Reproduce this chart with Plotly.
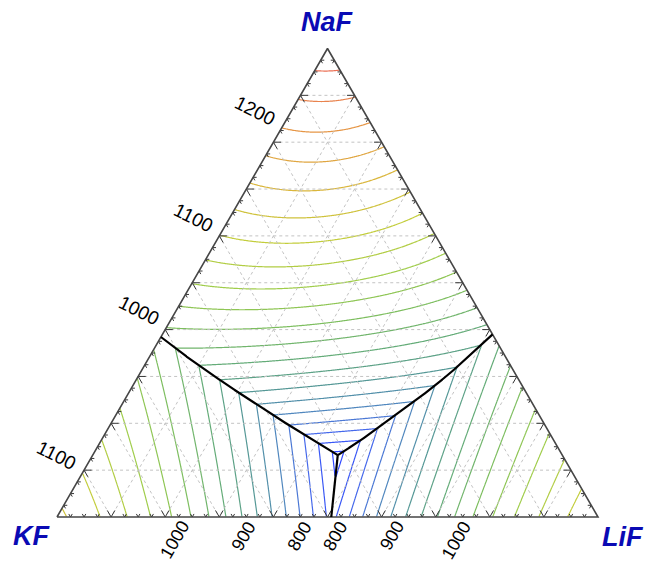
import numpy as np
import plotly.graph_objects as go

# ---------------- data ----------------
components = ["NaF", "KF", "LiF"]            # top, left, right vertex
melting_K = [1269.0, 1131.0, 1121.0]         # liquidus at the pure corners
fusion_J = [33350.0, 33400.0, 32400.0]       # fitted enthalpy of fusion
# binary interaction of each component's liquidus, order (NaF, KF, LiF)
W_NaF = [0.0, 1300.0, -3900.0]
W_KF = [-1500.0, 0.0, -24500.0]
W_LiF = [-10100.0, -24500.0, 0.0]
ternary_pair = [-9360.0, -18100.0, -31800.0]
ternary_triple = [36000.0, 0.0, 0.0]

level_start, level_end, level_step = 750, 1250, 25
naf_edge_labels = [1200, 1100, 1000]         # on KF-NaF edge (NaF field)
kf_left_labels = [1100]                      # on KF-NaF edge (KF field)
kf_bottom_labels = [1000, 900, 800]          # on KF-LiF edge (KF field)
lif_bottom_labels = [800, 900, 1000]         # on KF-LiF edge (LiF field)

line_colors = [
    [0.0, "rgb(45,70,255)"], [0.1, "rgb(70,105,235)"], [0.2, "rgb(80,135,190)"],
    [0.3, "rgb(85,152,150)"], [0.4, "rgb(100,172,120)"], [0.5, "rgb(125,190,95)"],
    [0.6, "rgb(160,205,75)"], [0.7, "rgb(195,205,60)"], [0.8, "rgb(218,182,60)"],
    [0.9, "rgb(230,150,70)"], [1.0, "rgb(235,112,85)"],
]

R = 8.314
H3 = np.sqrt(3) / 2
W = [W_NaF, W_KF, W_LiF]


def liquidus(i, x):
    j, k = [n for n in range(3) if n != i]
    xi = np.clip(x[i], 1e-7, 1.0)
    omega = (W[i][j] * x[j] ** 2 + W[i][k] * x[k] ** 2
             + ternary_pair[i] * x[j] * x[k]
             + ternary_triple[i] * x[0] * x[1] * x[2])
    return (fusion_J[i] + omega) / (fusion_J[i] / melting_K[i] - R * np.log(xi))


def to_xy(a, b, c):
    # a = NaF (top), b = KF (left), c = LiF (right)
    return c + a / 2.0, a * H3


# ---------------- liquidus surface on a grid ----------------
xs = np.linspace(-0.03, 1.03, 430)
ys = np.linspace(-0.03, 0.89, 380)
X, Y = np.meshgrid(xs, ys)
A = Y / H3
C = X - A / 2
B = 1 - A - C
comp = np.clip(np.array([A, B, C]), 1e-7, 1.0)
comp = comp / comp.sum(axis=0)
T = np.max([liquidus(i, comp) for i in range(3)], axis=0)
T = np.round(T, 2)

fig = go.Figure()
fig.add_trace(go.Contour(
    x=xs, y=ys, z=T, zmin=level_start, zmax=level_end,
    contours=dict(start=level_start, end=level_end, size=level_step, coloring="lines"),
    colorscale=line_colors, showscale=False, line=dict(width=1.2, smoothing=0.6),
    hoverinfo="skip"))

# white masks outside the triangle (separate, non-overlapping polygons)
masks = [
    ([-0.3, 0.0, 0.5, 0.5, -0.3], [0.0, 0.0, H3, 1.3, 1.3]),
    ([1.3, 1.0, 0.5, 0.5, 1.3], [0.0, 0.0, H3, 1.3, 1.3]),
    ([-0.3, 1.3, 1.3, -0.3], [0.0, 0.0, -0.3, -0.3]),
]
for mx, my in masks:
    fig.add_trace(go.Scatter(x=mx, y=my, fill="toself", fillcolor="white",
                             line=dict(width=1, color="white"), mode="lines",
                             hoverinfo="skip"))

# dashed grid
gx, gy = [], []
for v in np.arange(0.1, 0.95, 0.1):
    for p, q in [((v, 1 - v, 0), (v, 0, 1 - v)),
                 ((1 - v, v, 0), (0, v, 1 - v)),
                 ((1 - v, 0, v), (0, 1 - v, v))]:
        x0, y0 = to_xy(*p)
        x1, y1 = to_xy(*q)
        gx += [x0, x1, None]
        gy += [y0, y1, None]
fig.add_trace(go.Scatter(x=gx, y=gy, mode="lines",
                         line=dict(color="rgb(195,195,195)", width=1, dash="3px,3px"),
                         hoverinfo="skip"))

# ticks
tx, ty = [], []
edges = [
    (lambda t: (t, 0.0), [(0.5, H3), (-0.5, H3)]),
    (lambda t: (t / 2, t * H3), [(1.0, 0.0), (0.5, -H3)]),
    (lambda t: (1 - t / 2, t * H3), [(-1.0, 0.0), (-0.5, -H3)]),
]
for f, dirs in edges:
    for n in range(1, 40):
        t = n * 0.025
        L = 0.014 if n % 4 == 0 else 0.0065
        px, py = f(t)
        for dx, dy in dirs:
            tx += [px, px + L * dx, None]
            ty += [py, py + L * dy, None]
fig.add_trace(go.Scatter(x=tx, y=ty, mode="lines",
                         line=dict(color="rgb(55,55,55)", width=1), hoverinfo="skip"))

# triangle outline
fig.add_trace(go.Scatter(x=[0, 1, 0.5, 0], y=[0, 0, H3, 0], mode="lines",
                         line=dict(color="rgb(70,70,70)", width=1.6), hoverinfo="skip"))


# ---------------- phase boundaries (two-phase saturation lines) ----------------
def boundary(i, j, k):
    t = np.linspace(0, 0.6, 3000)
    lo = np.zeros_like(t)
    hi = np.ones_like(t)
    r = 1 - t
    for _ in range(60):
        s = (lo + hi) / 2
        x = np.zeros((3, t.size))
        x[i], x[j], x[k] = s * r, (1 - s) * r, t
        d = liquidus(i, x) - liquidus(j, x)
        hi = np.where(d > 0, s, hi)
        lo = np.where(d > 0, lo, s)
    s = (lo + hi) / 2
    x = np.zeros((3, t.size))
    x[i], x[j], x[k] = s * r, (1 - s) * r, t
    Ti = liquidus(i, x)
    Tk = liquidus(k, x)
    keep = np.cumprod(Tk <= Ti).astype(bool)
    return to_xy(x[0][keep], x[1][keep], x[2][keep])


bx, by = [], []
for i, j, k in [(0, 1, 2), (0, 2, 1), (1, 2, 0)]:
    px, py = boundary(i, j, k)
    bx += list(px) + [None]
    by += list(py) + [None]
fig.add_trace(go.Scatter(x=bx, y=by, mode="lines",
                         line=dict(color="black", width=2.2), hoverinfo="skip"))


# ---------------- temperature labels where isotherms meet the edges ----------------
def edge_root(phase, level, frac_of, lo, hi, other):
    pure = np.zeros((3, 1))
    pure[frac_of] = 1.0
    t_pure = liquidus(phase, pure)[0]
    for _ in range(60):
        m = (lo + hi) / 2
        x = np.zeros((3, 1))
        x[frac_of] = m
        x[other] = 1 - m
        val = liquidus(phase, x)[0]
        if (val - level) * (t_pure - level) > 0:
            hi = m
        else:
            lo = m
    return (lo + hi) / 2


annotations = []
lab_font = dict(family="Liberation Sans, Arial", size=19, color="black")
bot_font = dict(family="Liberation Sans, Arial", size=18, color="black")
for lv in naf_edge_labels:
    a = edge_root(0, lv, 0, 0.3, 1.0, 1)
    x0, y0 = to_xy(a, 1 - a, 0)
    annotations.append(dict(x=x0, y=y0, text=str(lv), textangle=27, showarrow=False,
                            xanchor="right", yanchor="bottom", xshift=-1, yshift=-4, font=lab_font))
for lv in kf_left_labels:
    b = edge_root(1, lv, 1, 0.5, 1.0, 0)
    x0, y0 = to_xy(1 - b, b, 0)
    annotations.append(dict(x=x0, y=y0, text=str(lv), textangle=27, showarrow=False,
                            xanchor="right", yanchor="bottom", xshift=0, yshift=-4, font=lab_font))
for lv in kf_bottom_labels:
    b = edge_root(1, lv, 1, 0.4, 1.0, 2)
    x0, y0 = to_xy(0, b, 1 - b)
    annotations.append(dict(x=x0, y=y0, text=str(lv), textangle=-60, showarrow=False,
                            xanchor="right", yanchor="top", xshift=5, yshift=2, font=bot_font))
for lv in lif_bottom_labels:
    c = edge_root(2, lv, 2, 0.4, 1.0, 1)
    x0, y0 = to_xy(0, 1 - c, c)
    annotations.append(dict(x=x0, y=y0, text=str(lv), textangle=-60, showarrow=False,
                            xanchor="right", yanchor="top", xshift=5, yshift=2, font=bot_font))

vfont = dict(family="Liberation Sans, Arial", size=27, color="rgb(10,10,180)")
for name, (x0, y0) in zip(components, [(0.5, 0.915), (-0.048, -0.035), (1.046, -0.037)]):
    annotations.append(dict(x=x0, y=y0, text="<b><i>%s</i></b>" % name, showarrow=False,
                            xanchor="center", yanchor="middle", font=vfont))

fig.update_layout(
    width=649, height=563, margin=dict(l=0, r=0, t=0, b=0),
    paper_bgcolor="white", plot_bgcolor="white", showlegend=False,
    xaxis=dict(range=[-57 / 541, 592 / 541], visible=False, fixedrange=True),
    yaxis=dict(range=[-46 / 541, 517 / 541], visible=False, fixedrange=True),
    annotations=annotations,
)
fig.write_html("out.html")
